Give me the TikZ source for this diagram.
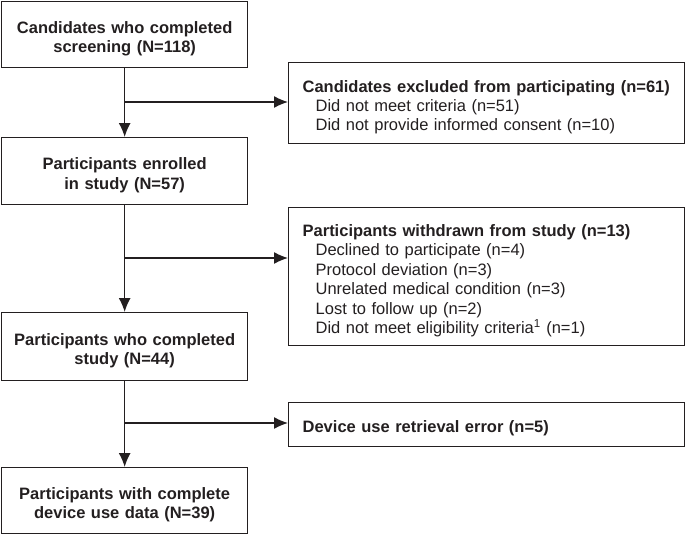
\documentclass[tikz,border=0pt]{standalone}
\usepackage{fontspec}
\setmainfont{Liberation Sans}
\usetikzlibrary{arrows.meta}
\definecolor{ink}{HTML}{231F20}

\begin{document}
\begin{tikzpicture}[x=1pt,y=-1pt,line width=1.3pt,color=ink,
  >={Latex[length=14pt,width=12pt]},
  every node/.style={draw,rectangle,anchor=north west,font=\fontsize{16.5}{19.4}\selectfont,
    execute at begin node=\rule{0pt}{20pt}},
  stage/.style={minimum width=246pt,text width=246pt,align=center,inner sep=0pt,execute at begin node=\rule{0pt}{20pt}\bfseries},
  outcome/.style={minimum width=396pt,text width=368pt,inner xsep=14pt,inner ysep=0pt,align=left}]
\useasboundingbox (0,0) rectangle (685,535);
\node[stage,minimum height=66pt]   (screened)  at (1,1)     { Candidates who completed\\screening (N=118) };
\node[stage,minimum height=67pt]   (enrolled)  at (1,137)   { Participants enrolled\\in study (N=57) };
\node[stage,minimum height=68pt]   (completed) at (1,312)   { Participants who completed\\study (N=44) };
\node[stage,minimum height=66pt]   (analysed)  at (1,467)   { Participants with complete\\device use data (N=39) };
\node[outcome,minimum height=81pt] (excluded)  at (288,62)  { \textbf{Candidates excluded from participating (n=61)}\\
  \hspace*{13pt}Did not meet criteria (n=51)\\
  \hspace*{13pt}Did not provide informed consent (n=10) };
\node[outcome,minimum height=138pt] (withdrawn) at (288,207) { \textbf{Participants withdrawn from study (n=13)}\\
  \hspace*{13pt}Declined to participate (n=4)\\
  \hspace*{13pt}Protocol deviation (n=3)\\
  \hspace*{13pt}Unrelated medical condition (n=3)\\
  \hspace*{13pt}Lost to follow up (n=2)\\
  \hspace*{13pt}Did not meet eligibility criteria\textsuperscript{1} (n=1) };
\node[outcome,minimum height=44pt] (retrieval) at (288,402) { \textbf{Device use retrieval error (n=5)} };
\coordinate (split1) at (124,102);
\coordinate (split2) at (124,258);
\coordinate (split3) at (124,423);
\draw[->] (screened)  edge (enrolled);
\draw[->] (enrolled)  edge (completed);
\draw[->] (completed) edge (analysed);
\draw[->] (split1) -- (split1 -| excluded.west);
\draw[->] (split2) -- (split2 -| withdrawn.west);
\draw[->] (split3) -- (split3 -| retrieval.west);
\end{tikzpicture}
\end{document}
